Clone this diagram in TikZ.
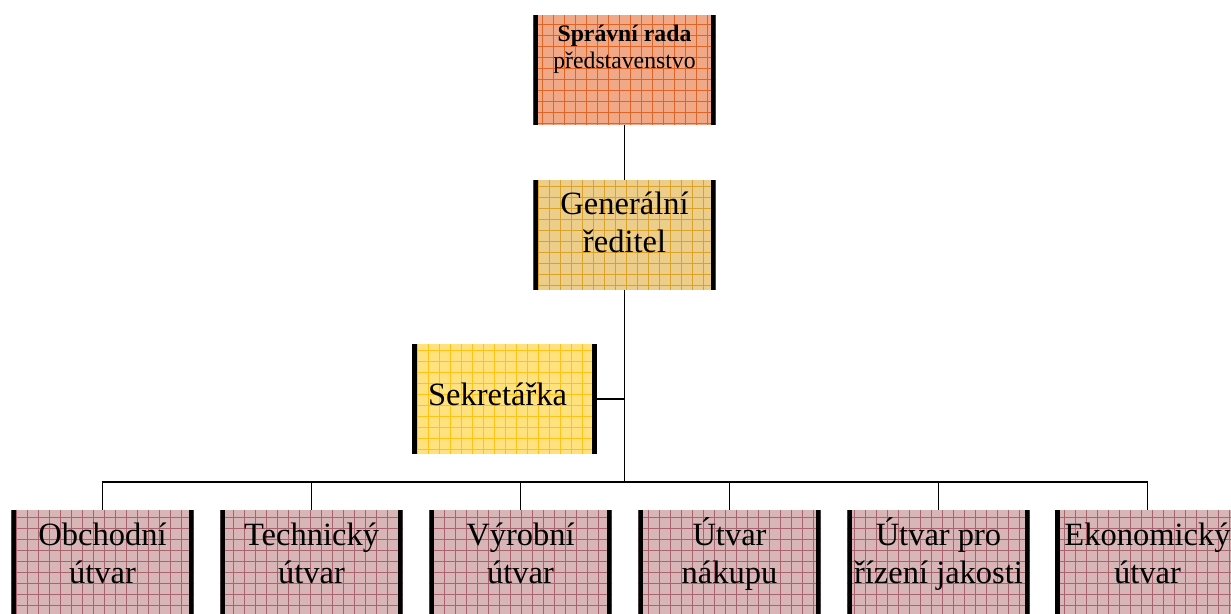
\documentclass[tikz,border=0pt]{standalone}
\usepackage{fontspec}
\setmainfont{Liberation Serif}
\definecolor{radaFill}{HTML}{F1A886}
\definecolor{radaGrid}{HTML}{DE6428}
\definecolor{gredFill}{HTML}{EDCD8A}
\definecolor{gredGrid}{HTML}{D9A22A}
\definecolor{sekrFill}{HTML}{FFE27E}
\definecolor{sekrGrid}{HTML}{FFC317}
\definecolor{utvFill}{HTML}{D8B6B8}
\definecolor{utvGrid}{HTML}{A8636C}

\begin{document}
\begin{tikzpicture}[x=0.02cm,y=-0.02cm,
  unit/.style={shape=rectangle,inner sep=0pt,minimum width=3.65cm,align=center,
    font=\fontsize{18.5}{21.5}\selectfont,
    path picture={
      \draw[#1,line width=0.5pt] (path picture bounding box.south west) grid[step=0.22cm] (path picture bounding box.north east);
      \draw[black,line width=2.8pt] ([xshift=1.4pt]path picture bounding box.south west) -- ([xshift=1.4pt]path picture bounding box.north west);
      \draw[black,line width=2.8pt] ([xshift=-1.4pt]path picture bounding box.south east) -- ([xshift=-1.4pt]path picture bounding box.north east);
    }},
  unitR/.style={unit=radaGrid,fill=radaFill,font=\fontsize{13.5}{15}\selectfont,text height=1.06cm,text depth=1.14cm},
  unitG/.style={unit=gredGrid,fill=gredFill,text height=1.44cm,text depth=0.76cm},
  unitS/.style={unit=sekrGrid,fill=sekrFill,minimum width=3.7cm,text height=1.22cm,text depth=0.98cm},
  unitU/.style={unit=utvGrid,fill=utvFill,text height=1.46cm,text depth=0.74cm},
  link/.style={draw=black,line width=0.8pt}]
\useasboundingbox (0,0) rectangle (1231,613);
\def\ybot{565};
\def\dx{209};

\node[unitR] (R) at (624.5,70) {\textbf{Správní rada}\\představenstvo};
\node[unitG] (G) at (624.5,235) {Generální\\ředitel};
\draw[link] (R.south) -- (G.north);
\node[unitS] (S) at (504.5,399) {Sekretářka\hspace*{0.28cm}};
\coordinate (B) at (624.5,482);
\draw[link] (G.south) -- (B);
\draw[link] (S.east) -- (S.east -| G.south);

\node[unitU] (U1) at (102.5,\ybot) {Obchodní\\útvar};
\draw[link] (U1.north) |- (B);
\node[unitU] (U2) at (102.5+\dx,\ybot) {Technický\\útvar};
\draw[link] (U2.north) |- (B);
\node[unitU] (U3) at (102.5+2*\dx,\ybot) {Výrobní\\útvar};
\draw[link] (U3.north) |- (B);
\node[unitU] (U4) at (102.5+3*\dx,\ybot) {Útvar\\nákupu};
\draw[link] (U4.north) |- (B);
\node[unitU] (U5) at (102.5+4*\dx,\ybot) {Útvar pro\\řízení jakosti};
\draw[link] (U5.north) |- (B);
\node[unitU,minimum width=4cm] (U6) at (1155,\ybot) {Ekonomický\hspace*{0.3cm}\\útvar\hspace*{0.3cm}};
\draw[link] ([xshift=-0.15cm]U6.north) |- (B);

\end{tikzpicture}
\end{document}
